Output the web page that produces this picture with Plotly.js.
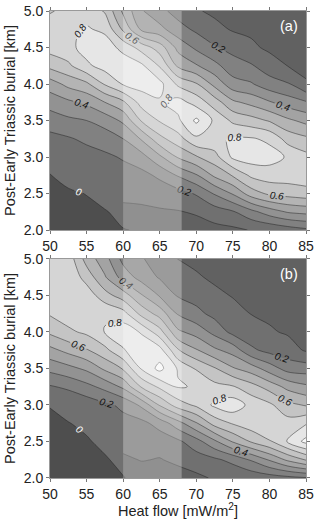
<!DOCTYPE html>
<html>
<head>
<meta charset="utf-8">
<script src="https://cdn.plot.ly/plotly-3.0.1.min.js"></script>
<style>
  html, body { margin: 0; padding: 0; background: #fff; }
  #plot { width: 320px; height: 519px; }
</style>
</head>
<body>
<div id="plot"></div>
<script>
// heat flow (x) and burial (y) grid
var heatFlow = [50, 52.5, 55, 57.5, 60, 62.5, 65, 67.5, 70, 72.5, 75, 77.5, 80, 82.5, 85];
var burial = [2.0, 2.25, 2.5, 2.75, 3.0, 3.25, 3.5, 3.75, 4.0, 4.25, 4.5, 4.75, 5.0];

// panel (a): one column per heat flow value, bottom (2.0 km) to top (5.0 km)
var fitA = [
    [-0.30, -0.20, -0.10, -0.01, 0.13, 0.17, 0.25, 0.34, 0.45, 0.63, 0.74, 0.76, 0.69],
    [-0.22, -0.13, -0.05, 0.12, 0.16, 0.19, 0.28, 0.38, 0.53, 0.68, 0.77, 0.78, 0.73],
    [-0.15, -0.08, 0.01, 0.13, 0.16, 0.22, 0.30, 0.42, 0.58, 0.78, 0.84, 0.81, 0.76],
    [-0.10, -0.02, 0.12, 0.15, 0.18, 0.25, 0.34, 0.50, 0.71, 0.84, 0.85, 0.78, 0.69],
    [-0.01, 0.08, 0.12, 0.16, 0.21, 0.30, 0.42, 0.58, 0.81, 0.86, 0.77, 0.58, 0.48],
    [0.02, 0.08, 0.13, 0.17, 0.26, 0.41, 0.61, 0.74, 0.84, 0.82, 0.66, 0.38, 0.31],
    [0.04, 0.09, 0.14, 0.22, 0.38, 0.57, 0.71, 0.79, 0.83, 0.69, 0.55, 0.33, 0.23],
    [0.05, 0.095, 0.16, 0.31, 0.51, 0.66, 0.78, 0.84, 0.68, 0.48, 0.37, 0.24, 0.16],
    [0.06, 0.11, 0.21, 0.39, 0.59, 0.78, 0.92, 0.76, 0.61, 0.41, 0.28, 0.18, 0.11],
    [0.07, 0.15, 0.31, 0.52, 0.66, 0.78, 0.78, 0.65, 0.47, 0.33, 0.21, 0.13, 0.08],
    [0.08, 0.19, 0.41, 0.61, 0.82, 0.81, 0.68, 0.52, 0.34, 0.24, 0.17, 0.09, 0.07],
    [0.105, 0.27, 0.55, 0.72, 0.85, 0.81, 0.64, 0.47, 0.31, 0.21, 0.12, 0.08, 0.06],
    [0.12, 0.35, 0.62, 0.75, 0.84, 0.78, 0.59, 0.41, 0.24, 0.15, 0.08, 0.06, 0.05],
    [0.15, 0.41, 0.64, 0.75, 0.79, 0.66, 0.52, 0.35, 0.21, 0.098, 0.07, 0.05, 0.045],
    [0.18, 0.43, 0.66, 0.76, 0.73, 0.62, 0.47, 0.31, 0.11, 0.075, 0.06, 0.05, 0.04]
];

// panel (b)
var fitB = [
    [-0.33, -0.26, -0.18, -0.10, 0.02, 0.19, 0.33, 0.47, 0.62, 0.71, 0.74, 0.75, 0.74],
    [-0.25, -0.17, -0.09, -0.01, 0.11, 0.22, 0.37, 0.53, 0.68, 0.75, 0.78, 0.78, 0.76],
    [-0.18, -0.10, -0.03, 0.06, 0.14, 0.27, 0.42, 0.59, 0.72, 0.78, 0.76, 0.66, 0.56],
    [-0.10, -0.03, 0.07, 0.13, 0.18, 0.33, 0.52, 0.67, 0.805, 0.79, 0.64, 0.51, 0.44],
    [-0.005, 0.08, 0.14, 0.17, 0.22, 0.42, 0.61, 0.79, 0.86, 0.74, 0.55, 0.36, 0.27],
    [0.04, 0.105, 0.15, 0.17, 0.32, 0.61, 0.81, 0.87, 0.79, 0.57, 0.41, 0.26, 0.21],
    [0.05, 0.095, 0.14, 0.24, 0.51, 0.72, 0.93, 0.84, 0.64, 0.46, 0.29, 0.19, 0.15],
    [0.06, 0.12, 0.18, 0.36, 0.65, 0.81, 0.79, 0.61, 0.42, 0.29, 0.19, 0.13, 0.098],
    [0.08, 0.15, 0.26, 0.49, 0.72, 0.79, 0.69, 0.51, 0.36, 0.23, 0.16, 0.11, 0.08],
    [0.11, 0.18, 0.38, 0.64, 0.82, 0.73, 0.61, 0.42, 0.27, 0.17, 0.12, 0.085, 0.07],
    [0.11, 0.23, 0.51, 0.71, 0.86, 0.71, 0.51, 0.36, 0.17, 0.13, 0.095, 0.075, 0.06],
    [0.13, 0.31, 0.61, 0.76, 0.77, 0.64, 0.45, 0.22, 0.14, 0.098, 0.08, 0.065, 0.055],
    [0.15, 0.41, 0.69, 0.78, 0.72, 0.56, 0.35, 0.17, 0.11, 0.085, 0.07, 0.055, 0.05],
    [0.17, 0.52, 0.81, 0.74, 0.63, 0.47, 0.26, 0.14, 0.09, 0.075, 0.06, 0.05, 0.045],
    [0.19, 0.61, 0.93, 0.79, 0.59, 0.42, 0.25, 0.09, 0.07, 0.06, 0.05, 0.045, 0.04]
];

// highlighted heat flow interval
var bandRange = [60, 68];
var panelNames = ['(a)', '(b)'];

var fontFamily = 'Liberation Sans, Arial, sans-serif';
var lineColour = 'rgba(30,30,30,0.72)';
var greys = [[0, 'rgb(112,112,112)'], [1, 'rgb(247,247,247)']];

function panelTraces(z, xa, ya) {
    // the 0.1 contour is only drawn from the highlighted band eastwards, as in the figure
    var firstBand = heatFlow.indexOf(bandRange[0]);
    var base = {
        type: 'contour',
        x: heatFlow,
        y: burial,
        z: z,
        transpose: true,
        xaxis: xa,
        yaxis: ya,
        showscale: false,
        autocontour: false,
        hoverinfo: 'skip'
    };
    var fill = Object.assign({}, base, {
        colorscale: greys,
        contours: {start: 0.2, end: 0.9, size: 0.1, coloring: 'fill', showlines: false},
        line: {width: 0}
    });
    // constraint traces shade where the constraint fails, i.e. the low values
    var below01 = Object.assign({}, base, {
        x: heatFlow.slice(firstBand),
        z: z.slice(firstBand),
        contours: {type: 'constraint', operation: '>', value: 0.1},
        fillcolor: 'rgb(97,97,97)',
        line: {color: lineColour, width: 0.65}
    });
    var belowZero = Object.assign({}, base, {
        contours: {type: 'constraint', operation: '>', value: 0},
        fillcolor: 'rgb(78,78,78)',
        line: {width: 0}
    });
    // unlabelled odd levels
    var odd = Object.assign({}, base, {
        contours: {start: 0.3, end: 0.9, size: 0.2, coloring: 'none', showlabels: false},
        line: {color: lineColour, width: 0.65}
    });
    // labelled even levels
    var even = Object.assign({}, base, {
        contours: {
            start: 0.2, end: 0.8, size: 0.2, coloring: 'none', showlabels: true,
            labelfont: {family: fontFamily, size: 10, color: '#111', style: 'italic'}
        },
        line: {color: lineColour, width: 0.65}
    });
    // zero line with white label
    var zero = Object.assign({}, base, {
        contours: {
            start: 0, end: 0.01, size: 0.1, coloring: 'none', showlabels: true,
            labelfont: {family: fontFamily, size: 10, color: '#fff', style: 'italic'}
        },
        line: {color: lineColour, width: 0.65}
    });
    return [fill, below01, belowZero, odd, even, zero];
}

var data = panelTraces(fitA, 'x', 'y').concat(panelTraces(fitB, 'x2', 'y2'));

var axisX = {
    range: [50, 85],
    dtick: 5,
    ticks: 'outside',
    ticklen: 3,
    tickcolor: '#777',
    showline: true,
    linecolor: '#999',
    linewidth: 1,
    mirror: 'ticks',
    showgrid: false,
    zeroline: false,
    tickfont: {family: fontFamily, size: 14, color: '#222'}
};
var axisY = {
    range: [2, 5],
    dtick: 0.5,
    tickformat: '.1f',
    ticks: 'outside',
    ticklen: 3,
    tickcolor: '#777',
    showline: true,
    linecolor: '#999',
    linewidth: 1,
    mirror: 'ticks',
    showgrid: false,
    zeroline: false,
    tickfont: {family: fontFamily, size: 14, color: '#222'},
    title: {text: 'Post-Early Triassic burial [km]', font: {family: fontFamily, size: 14.5, color: '#222'}, standoff: 4}
};

var layout = {
    width: 320,
    height: 519,
    margin: {l: 50, r: 14, t: 11, b: 41},
    paper_bgcolor: '#fff',
    plot_bgcolor: '#fff',
    showlegend: false,
    font: {family: fontFamily, size: 14, color: '#222'},
    xaxis: Object.assign({}, axisX, {anchor: 'y', domain: [0, 1]}),
    yaxis: Object.assign({}, axisY, {anchor: 'x', domain: [0.531, 1]}),
    xaxis2: Object.assign({}, axisX, {
        anchor: 'y2', domain: [0, 1],
        title: {text: 'Heat flow [mW/m<sup>2</sup>]', font: {family: fontFamily, size: 14.5, color: '#222'}, standoff: 4}
    }),
    yaxis2: Object.assign({}, axisY, {anchor: 'x2', domain: [0, 0.469]}),
    shapes: [
        {type: 'rect', xref: 'x', yref: 'y domain', x0: bandRange[0], x1: bandRange[1], y0: 0, y1: 1,
         fillcolor: 'rgba(255,255,255,0.3)', line: {width: 0}, layer: 'above'},
        {type: 'rect', xref: 'x2', yref: 'y2 domain', x0: bandRange[0], x1: bandRange[1], y0: 0, y1: 1,
         fillcolor: 'rgba(255,255,255,0.3)', line: {width: 0}, layer: 'above'}
    ],
    annotations: [
        {xref: 'x domain', yref: 'y domain', x: 0.975, y: 0.975, xanchor: 'right', yanchor: 'top',
         text: panelNames[0], showarrow: false, font: {family: fontFamily, size: 14.5, color: '#fff'}},
        {xref: 'x2 domain', yref: 'y2 domain', x: 0.975, y: 0.975, xanchor: 'right', yanchor: 'top',
         text: panelNames[1], showarrow: false, font: {family: fontFamily, size: 14.5, color: '#fff'}}
    ]
};

Plotly.newPlot('plot', data, layout, {staticPlot: true, displayModeBar: false});
</script>
</body>
</html>
